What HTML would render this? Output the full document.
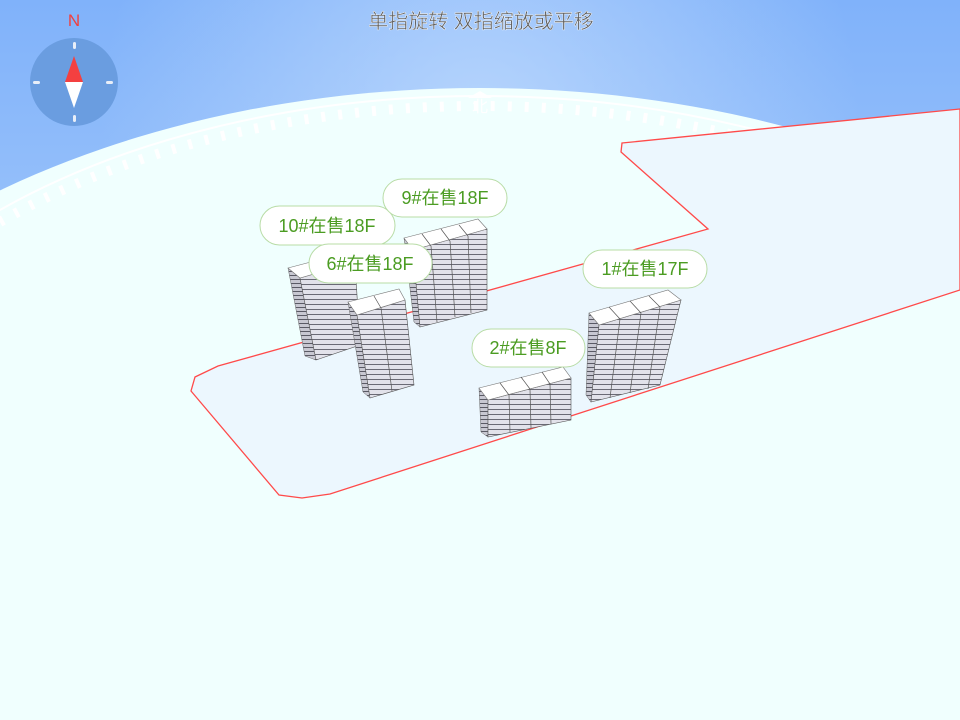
<!DOCTYPE html>
<html><head><meta charset="utf-8"><style>
html,body{margin:0;padding:0;width:960px;height:720px;overflow:hidden}
svg{display:block}
</style></head><body>
<svg width="960" height="720" viewBox="0 0 960 720" xmlns="http://www.w3.org/2000/svg">
<defs>
<linearGradient id="sky" x1="0" y1="0" x2="0" y2="1">
<stop offset="0" stop-color="#80b2fa"/><stop offset="1" stop-color="#c8e0fc"/>
</linearGradient>
<radialGradient id="glow" cx="480" cy="120" r="380" gradientUnits="userSpaceOnUse">
<stop offset="0" stop-color="#c8e0fd" stop-opacity="0.7"/><stop offset="1" stop-color="#c8e0fd" stop-opacity="0"/>
</radialGradient>
<pattern id="fl" width="6" height="5" patternUnits="userSpaceOnUse">
<rect width="6" height="5" fill="#e2e2ea"/><rect y="4" width="6" height="1" fill="#6a6a75"/>
</pattern>
<pattern id="fs" width="6" height="4" patternUnits="userSpaceOnUse">
<rect width="6" height="4" fill="#c8c8d2"/><rect y="3" width="6" height="1" fill="#5a5a65"/>
</pattern>
<clipPath id="dome"><ellipse cx="480" cy="600" rx="800" ry="512"/></clipPath>
</defs>
<rect width="960" height="720" fill="url(#sky)"/>
<rect width="960" height="300" fill="url(#glow)"/>
<ellipse cx="480" cy="600" rx="800" ry="512" fill="#f0fffe"/>
<g clip-path="url(#dome)">
<ellipse cx="480" cy="515" rx="700" ry="419" fill="none" stroke="#ffffff" stroke-width="2"/>
<ellipse cx="480" cy="532" rx="700" ry="426" fill="none" stroke="#ffffff" stroke-width="10" stroke-dasharray="4 13"/>
</g>
<text x="480" y="112" font-family="Liberation Sans, Noto Sans CJK SC, sans-serif" font-size="16" fill="#ffffff" text-anchor="middle">北</text>
<polygon points="468,98 480,91 492,98" fill="#fff"/>
<!-- ground -->
<polygon points="622,143 960,109 960,290 330,494 302,498 279,495 191,391 195,377 218,366 708,229 621,152" fill="#ecf7fe" stroke="#ff4a4a" stroke-width="1.3"/>
<!-- 10# -->
<polygon points="288,268 300,278 316,360 305,356" fill="url(#fs)" stroke="#666" stroke-width="0.5"/>
<polygon points="300,278 355,262 360,345 316,360" fill="url(#fl)" stroke="#555" stroke-width="0.6"/>
<polygon points="288,268 345,253 355,262 300,278" fill="#fff" stroke="#777" stroke-width="0.6"/>
<!-- 9# -->
<polygon points="404,238 413,250 420,327 414,322" fill="url(#fs)" stroke="#666" stroke-width="0.5"/>
<polygon points="413,250 487,229 487,310 420,327" fill="url(#fl)" stroke="#555" stroke-width="0.6"/>
<polygon points="404,238 478,219 487,229 413,250" fill="#fff" stroke="#777" stroke-width="0.6"/>
<g stroke="#555" stroke-width="0.7"><line x1="422" y1="234" x2="431" y2="246"/><line x1="431" y1="246" x2="437" y2="322"/><line x1="441" y1="229" x2="450" y2="241"/><line x1="450" y1="241" x2="455" y2="317"/><line x1="459" y1="225" x2="468" y2="236"/><line x1="468" y1="236" x2="471" y2="313"/></g>
<!-- 6# -->
<polygon points="348,302 357,315 370,398 363,392" fill="url(#fs)" stroke="#666" stroke-width="0.5"/>
<polygon points="357,315 405,300 414,385 370,398" fill="url(#fl)" stroke="#555" stroke-width="0.6"/>
<polygon points="348,302 399,289 405,300 357,315" fill="#fff" stroke="#777" stroke-width="0.6"/>
<g stroke="#555" stroke-width="0.7"><line x1="374" y1="296" x2="381" y2="308"/><line x1="381" y1="308" x2="392" y2="391"/></g>
<!-- 2# -->
<polygon points="479,388 488,400 488,437 481,432" fill="url(#fs)" stroke="#666" stroke-width="0.5"/>
<polygon points="488,400 571,378 571,420 488,437" fill="url(#fl)" stroke="#555" stroke-width="0.6"/>
<polygon points="479,388 563,367 571,378 488,400" fill="#fff" stroke="#777" stroke-width="0.6"/>
<g stroke="#555" stroke-width="0.7"><line x1="500" y1="383" x2="509" y2="395"/><line x1="509" y1="395" x2="510" y2="432"/><line x1="521" y1="377" x2="530" y2="389"/><line x1="530" y1="389" x2="531" y2="428"/><line x1="542" y1="372" x2="550" y2="384"/><line x1="550" y1="384" x2="551" y2="424"/></g>
<!-- 1# -->
<polygon points="589,313 599,325 591,402 586,395" fill="url(#fs)" stroke="#666" stroke-width="0.5"/>
<polygon points="599,325 681,300 660,385 591,402" fill="url(#fl)" stroke="#555" stroke-width="0.6"/>
<polygon points="589,313 668,290 681,300 599,325" fill="#fff" stroke="#777" stroke-width="0.6"/>
<g stroke="#555" stroke-width="0.7"><line x1="609" y1="307" x2="620" y2="319"/><line x1="620" y1="319" x2="610" y2="398"/><line x1="630" y1="301" x2="641" y2="313"/><line x1="641" y1="313" x2="630" y2="393"/><line x1="649" y1="296" x2="660" y2="307"/><line x1="660" y1="307" x2="648" y2="389"/></g>
<!-- labels -->
<g font-family="Liberation Sans, Noto Sans CJK SC, sans-serif" font-size="18" fill="#4b9c22" text-anchor="middle">
<rect x="260" y="206" width="135" height="39" rx="19.5" fill="#fff" stroke="#b8dca6"/>
<text x="327" y="232">10#在售18F</text>
<rect x="383" y="179" width="124" height="38" rx="19" fill="#fff" stroke="#b8dca6"/>
<text x="445" y="204">9#在售18F</text>
<rect x="309" y="244" width="123" height="39" rx="19.5" fill="#fff" stroke="#b8dca6"/>
<text x="370" y="270">6#在售18F</text>
<rect x="583" y="250" width="124" height="38" rx="19" fill="#fff" stroke="#b8dca6"/>
<text x="645" y="275">1#在售17F</text>
<rect x="472" y="329" width="113" height="38" rx="19" fill="#fff" stroke="#b8dca6"/>
<text x="528" y="354">2#在售8F</text>
</g>
<!-- compass -->
<circle cx="74" cy="82" r="44" fill="#6a9de0"/>
<g fill="#e8eef8"><rect x="73" y="42" width="3" height="7" rx="1.5"/><rect x="73" y="115" width="3" height="7" rx="1.5"/><rect x="33" y="81" width="7" height="3" rx="1.5"/><rect x="106" y="81" width="7" height="3" rx="1.5"/></g>
<polygon points="74,56 65,82 83,82" fill="#f44040"/>
<polygon points="74,108 65,82 83,82" fill="#ffffff"/>
<text x="74" y="26" font-family="Liberation Sans, sans-serif" font-size="17" fill="#f04040" text-anchor="middle">N</text>
<text x="481" y="28" font-family="Liberation Sans, Noto Sans CJK SC, sans-serif" font-size="20" fill="#5e5e5e" stroke="#ffffff" stroke-width="0.4" text-anchor="middle">单指旋转 双指缩放或平移</text>
</svg>
</body></html>
